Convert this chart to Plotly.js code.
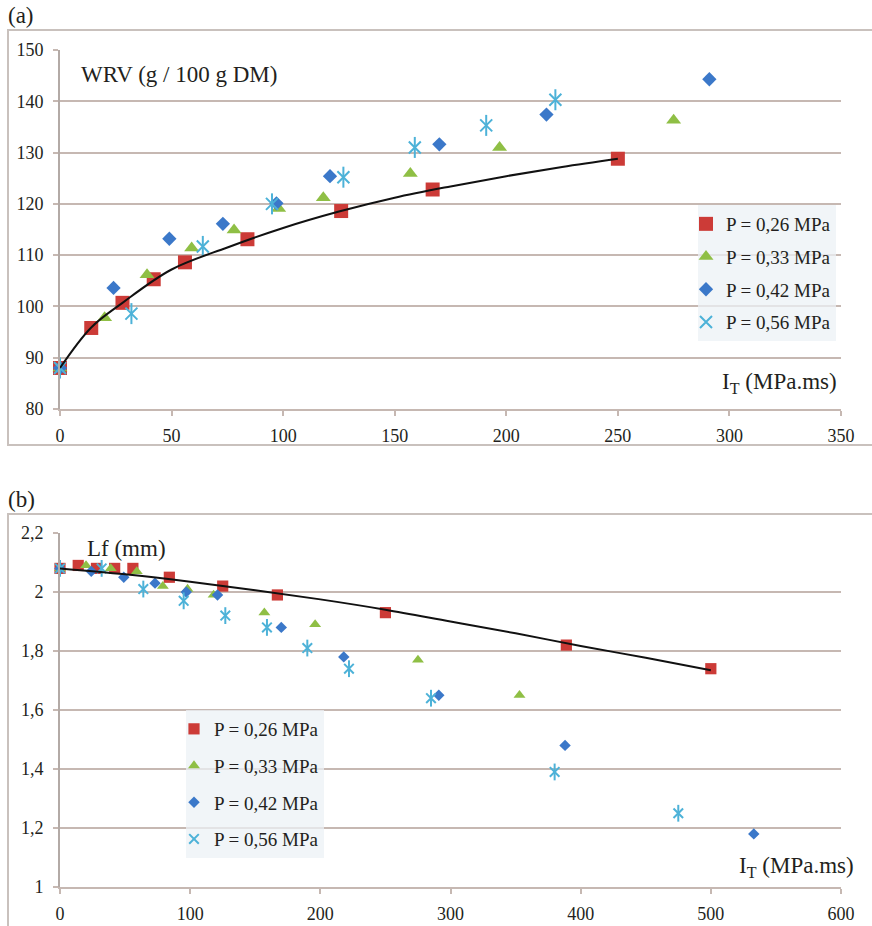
<!DOCTYPE html>
<html>
<head>
<meta charset="utf-8">
<script src="https://cdn.plot.ly/plotly-3.0.1.min.js"></script>
<style>
  html, body { margin: 0; padding: 0; background: #ffffff; }
  #chart { width: 872px; height: 926px; }
</style>
</head>
<body>
<div id="chart"></div>
<script>
// Series labels (pressure levels)
const seriesNames = ['P = 0,26 MPa', 'P = 0,33 MPa', 'P = 0,42 MPa', 'P = 0,56 MPa'];

// (a) Water retention value vs. treatment intensity I_T
const wrvX026 = [0, 14, 28, 42, 56, 84, 126, 167, 250];
const wrvY026 = [88, 95.8, 100.7, 105.3, 108.6, 113.1, 118.6, 122.8, 128.8];
const wrvX033 = [0, 20, 39, 59, 78, 98, 118, 157, 197, 275];
const wrvY033 = [88, 97.8, 106.2, 111.4, 114.9, 119.1, 121.2, 125.9, 131.0, 136.3];
const wrvX042 = [0, 24, 49, 73, 97, 121, 170, 218, 291];
const wrvY042 = [88, 103.6, 113.2, 116.1, 120.1, 125.4, 131.6, 137.4, 144.3];
const wrvX056 = [0, 32, 64, 95, 127, 159, 191, 222];
const wrvY056 = [88, 98.6, 111.7, 120.0, 125.2, 131.0, 135.3, 140.3];
// trend curve through the 0,26 MPa series
const wrvTrendX = [0, 14, 28, 50, 75, 100, 125, 150, 175, 200, 225, 250];
const wrvTrendY = [88, 95.9, 100.7, 107.2, 111.5, 115.3, 118.5, 121.2, 123.4, 125.4, 127.2, 128.8];

// (b) Fibre length Lf vs. treatment intensity I_T
const lfX026 = [0, 14, 28, 42, 56, 84, 125, 167, 250, 389, 500];
const lfY026 = [2.08, 2.09, 2.08, 2.08, 2.08, 2.05, 2.02, 1.99, 1.93, 1.82, 1.74];
const lfX033 = [0, 20, 39, 59, 79, 98, 118, 157, 196, 275, 353];
const lfY033 = [2.08, 2.09, 2.08, 2.07, 2.02, 2.01, 1.99, 1.93, 1.89, 1.77, 1.65];
const lfX042 = [0, 24, 49, 73, 97, 121, 170, 218, 291, 388, 533];
const lfY042 = [2.08, 2.07, 2.05, 2.03, 2.00, 1.99, 1.88, 1.78, 1.65, 1.48, 1.18];
const lfX056 = [0, 32, 64, 95, 127, 159, 190, 222, 285, 380, 475];
const lfY056 = [2.08, 2.08, 2.01, 1.97, 1.92, 1.88, 1.81, 1.74, 1.64, 1.39, 1.25];
const lfTrendX = [0, 50, 100, 150, 200, 250, 300, 350, 400, 450, 500];
const lfTrendY = [2.08, 2.06, 2.035, 2.006, 1.975, 1.94, 1.90, 1.86, 1.817, 1.777, 1.735];

// Tick labels
const wrvTicksX = [0, 50, 100, 150, 200, 250, 300, 350];
const wrvTicksY = [80, 90, 100, 110, 120, 130, 140, 150];
const lfTicksX = [0, 100, 200, 300, 400, 500, 600];
const lfTicksY = [1, 1.2, 1.4, 1.6, 1.8, 2, 2.2];

const W = 872, H = 926;
const px = v => v / W;
const py = v => 1 - v / H;

const RED = '#cc3b37', GREEN = '#8fbf45', BLUE = '#3b78c9', CYAN = '#4db2d8';
const GRID = '#c6b8b2', AXIS = '#b3aaa6', INK = '#231f20';
const FONT = 'Liberation Serif';
const font = size => ({ family: FONT, size: size, color: INK });

function markerTraces(xs, ys, xa, ya, leg, big) {
  const s = big ? 1 : 0.8;
  const g = leg + '-';
  const common = () => ({ xaxis: xa, yaxis: ya, legend: leg, mode: 'markers', type: 'scatter', cliponaxis: false });
  return [
    Object.assign(common(), { x: xs[0], y: ys[0], name: seriesNames[0], legendgroup: g + 0,
      marker: { symbol: 'square', size: 14 * s, color: RED } }),
    Object.assign(common(), { x: xs[1], y: ys[1], name: seriesNames[1], legendgroup: g + 1,
      marker: { symbol: 'triangle-up', size: 13 * s, color: GREEN } }),
    Object.assign(common(), { x: xs[2], y: ys[2], name: seriesNames[2], legendgroup: g + 2,
      marker: { symbol: 'diamond', size: 11 * s, color: BLUE } }),
    // six-armed star: an X plus a vertical stroke
    Object.assign(common(), { x: xs[3], y: ys[3], name: seriesNames[3], legendgroup: g + 3,
      marker: { symbol: 'x-thin-open', size: 12 * s, color: CYAN, line: { color: CYAN, width: 2 } } }),
    Object.assign(common(), { x: xs[3], y: ys[3], showlegend: false, legendgroup: g + 3, hoverinfo: 'skip',
      marker: { symbol: 'line-ns-open', size: 15 * s, color: CYAN, line: { color: CYAN, width: 2 } } })
  ];
}

const traces = [].concat(
  markerTraces([wrvX026, wrvX033, wrvX042, wrvX056], [wrvY026, wrvY033, wrvY042, wrvY056], 'x', 'y', 'legend', true),
  [{ x: wrvTrendX, y: wrvTrendY, xaxis: 'x', yaxis: 'y', mode: 'lines', type: 'scatter', cliponaxis: false,
     line: { color: '#111111', width: 2, shape: 'spline' }, showlegend: false, hoverinfo: 'skip' }],
  markerTraces([lfX026, lfX033, lfX042, lfX056], [lfY026, lfY033, lfY042, lfY056], 'x2', 'y2', 'legend2', false),
  [{ x: lfTrendX, y: lfTrendY, xaxis: 'x2', yaxis: 'y2', mode: 'lines', type: 'scatter', cliponaxis: false,
     line: { color: '#111111', width: 2, shape: 'spline' }, showlegend: false, hoverinfo: 'skip' }]
);

const xAxis = (domain, range, tickvals, anchor) => ({
  domain, range, tickvals, anchor,
  showgrid: false, zeroline: false, showline: true, linecolor: GRID, linewidth: 2,
  ticks: 'outside', ticklen: 5, tickwidth: 2, tickcolor: GRID,
  tickfont: font(18), ticklabelstandoff: 4, fixedrange: true
});
const yAxis = (domain, range, tickvals, anchor) => ({
  domain, range, tickvals, anchor,
  showgrid: true, gridcolor: GRID, gridwidth: 2, zeroline: false,
  showline: true, linecolor: AXIS, linewidth: 2,
  ticks: 'outside', ticklen: 5, tickwidth: 2, tickcolor: GRID,
  tickfont: font(18), ticklabelstandoff: 6, fixedrange: true
});

const legendAt = (x, y, gap) => ({
  x, y, tracegroupgap: gap,
  bgcolor: 'rgba(236,241,246,0.75)', borderwidth: 0,
  font: font(19),
  xanchor: 'left', yanchor: 'top', itemwidth: 30, indentation: -12,
  traceorder: 'grouped'
});

const ann = (text, x, y) => ({ text, x: px(x), y: py(y), xref: 'paper', yref: 'paper',
  xanchor: 'left', yanchor: 'middle', showarrow: false, font: font(23) });

const layout = {
  width: W, height: H,
  margin: { l: 0, r: 0, t: 0, b: 0 },
  paper_bgcolor: '#ffffff', plot_bgcolor: 'rgba(0,0,0,0)',
  font: font(18),
  separators: ', ',
  showlegend: true,
  xaxis: xAxis([px(60), px(841)], [0, 350], wrvTicksX, 'y'),
  yaxis: yAxis([py(409), py(50)], [80, 150], wrvTicksY, 'x'),
  xaxis2: xAxis([px(60), px(841)], [0, 600], lfTicksX, 'y2'),
  yaxis2: yAxis([py(887), py(533)], [1, 2.2], lfTicksY, 'x2'),
  legend: legendAt(px(698), py(205), 5),
  legend2: legendAt(px(186), py(710), 9),
  shapes: [
    { type: 'rect', xref: 'paper', yref: 'paper', x0: px(8), x1: px(880), y0: py(445), y1: py(30),
      line: { color: '#c9c1bd', width: 2 }, layer: 'below' },
    { type: 'rect', xref: 'paper', yref: 'paper', x0: px(8), x1: px(880), y0: py(940), y1: py(514),
      line: { color: '#c9c1bd', width: 2 }, layer: 'below' }
  ],
  annotations: [
    ann('(a)', 6, 15),
    ann('WRV (g / 100 g DM)', 79, 74),
    ann('I<sub>T</sub> (MPa.ms)', 720, 383),
    ann('(b)', 6, 500),
    ann('Lf (mm)', 85, 548),
    ann('I<sub>T</sub> (MPa.ms)', 737, 867)
  ]
};

Plotly.newPlot('chart', traces, layout, { displayModeBar: false });
</script>
</body>
</html>
